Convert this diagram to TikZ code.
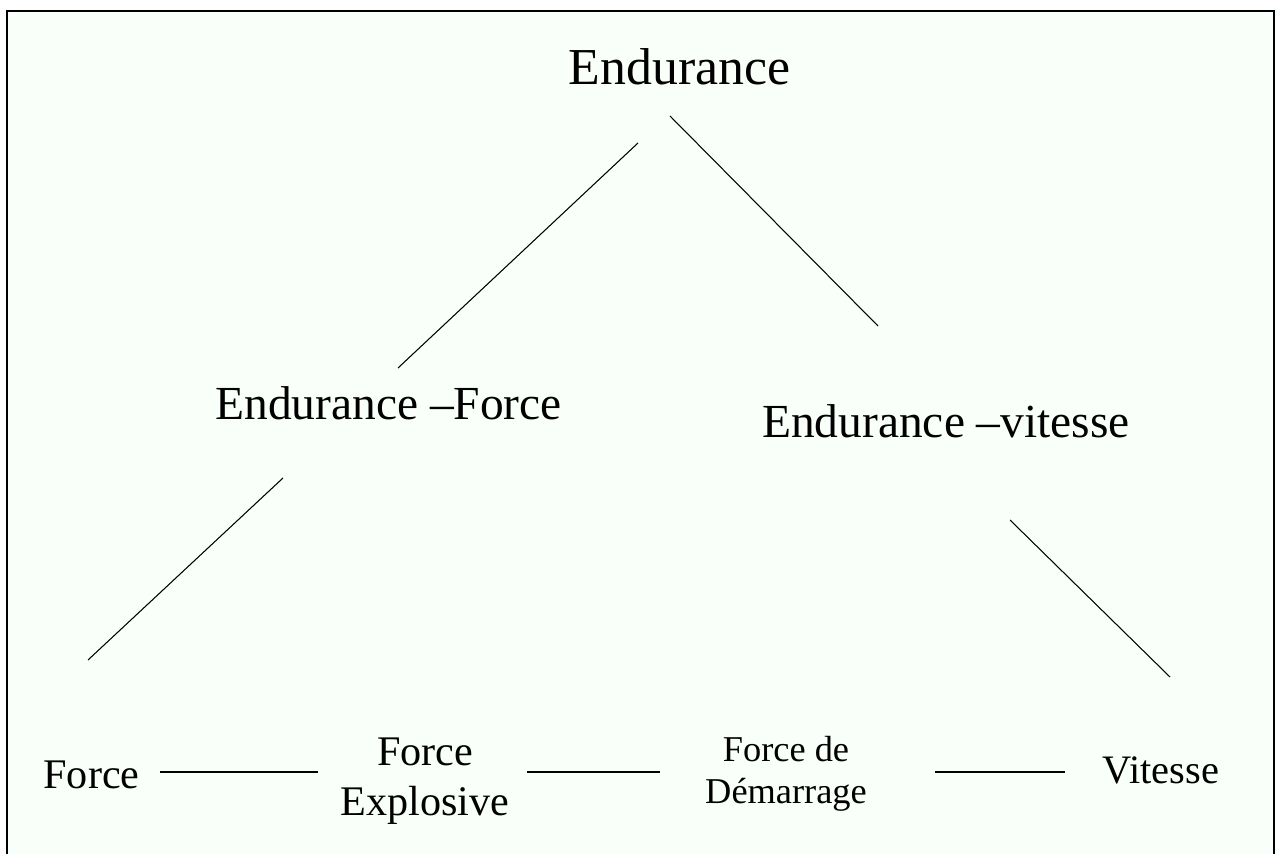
\documentclass[tikz,border=0pt]{standalone}
\usepackage{fontspec}
\setmainfont{Liberation Serif}
\definecolor{paper}{RGB}{249,255,249}

\begin{document}
\begin{tikzpicture}[x=0.02cm, y=-0.02cm, every node/.style={anchor=base, inner sep=0pt, align=center}, link/.style={line width=0.6pt}]
    \useasboundingbox (0,0) rectangle (1278,854);
    \draw[fill=paper, line width=0.8pt] (7,11) rectangle (1274,880);

    \node[font=\fontsize{29.5}{34}\selectfont] (endu) at (679.5,85) {Endurance};
    \node[font=\fontsize{27}{31}\selectfont] (endf) at (388.5,420) {Endurance --Force};
    \node[font=\fontsize{27}{31}\selectfont] (endv) at (946,438) {Endurance --vitesse};
    \node[font=\fontsize{24}{28}\selectfont] (force) at (91.5,788) {Force};
    \node[font=\fontsize{24}{28.4}\selectfont] (explo) at (425,815) {Force\\Explosive};
    \node[font=\fontsize{20.7}{23.4}\selectfont] (demar) at (786,803) {Force de\\D\'emarrage};
    \node[font=\fontsize{23}{27}\selectfont] (vite) at (1161,783) {Vitesse};

    \coordinate (a1) at (638,143);
    \coordinate (a2) at (398,368);
    \coordinate (b1) at (670,116);
    \coordinate (b2) at (878,326);
    \coordinate (c1) at (283,478);
    \coordinate (c2) at (88,660);
    \coordinate (d1) at (1010,520);
    \coordinate (d2) at (1170,677);
    \coordinate (e1) at (160,772);
    \coordinate (e2) at (318,772);
    \coordinate (f1) at (527,772);
    \coordinate (f2) at (660,772);
    \coordinate (g1) at (935,772);
    \coordinate (g2) at (1065,772);

    \draw[link] (a1) -- (a2);
    \draw[link] (b1) -- (b2);
    \draw[link] (c1) -- (c2);
    \draw[link] (d1) -- (d2);
    \draw[link] (e1) -- (e2);
    \draw[link] (f1) -- (f2);
    \draw[link] (g1) -- (g2);
\end{tikzpicture}
\end{document}
